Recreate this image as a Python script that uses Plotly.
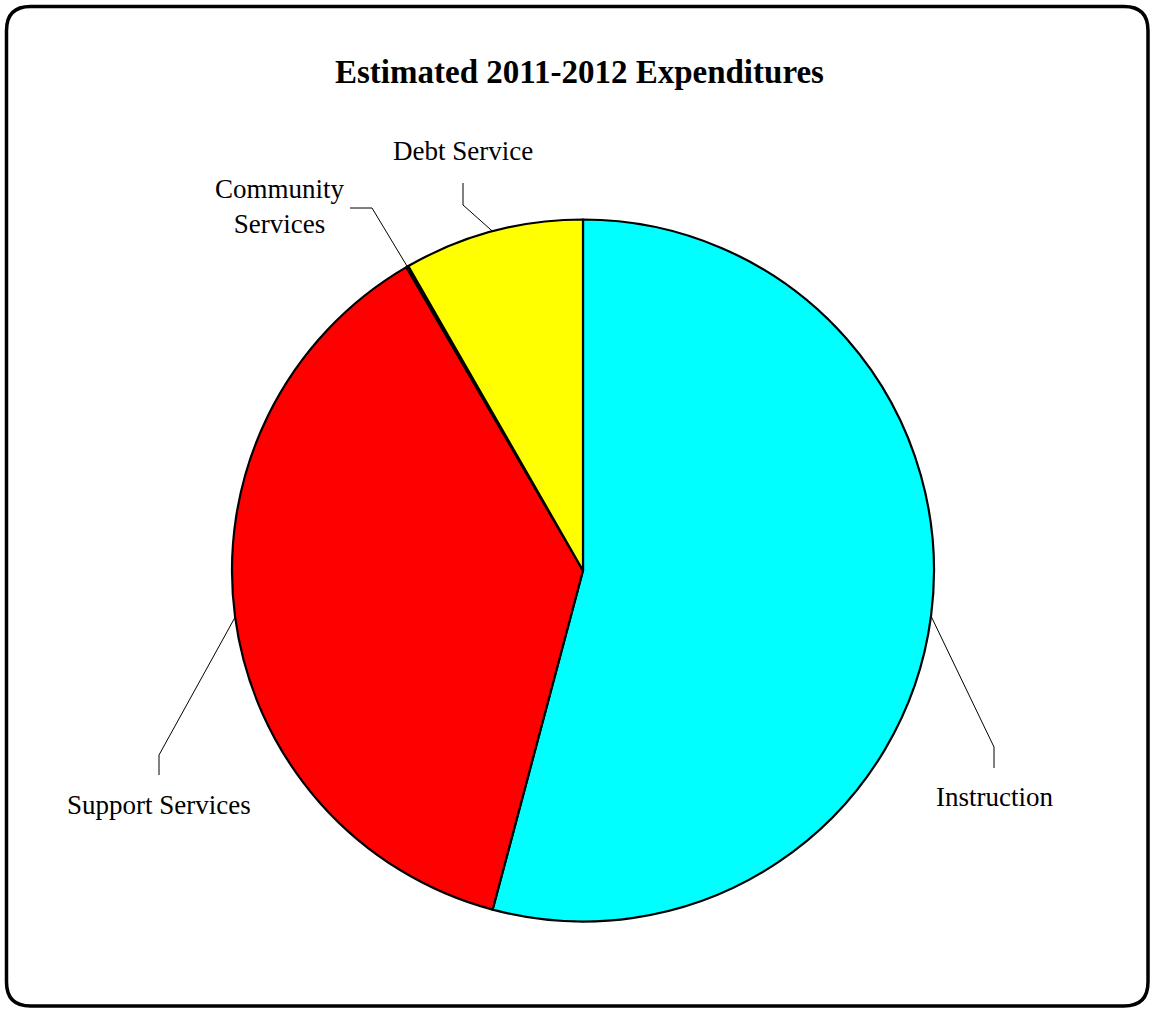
import math
import plotly.graph_objects as go

# Expenditure categories and their shares of the budget (percent)
categories = ["Instruction", "Support Services", "Community Services", "Debt Service"]
shares = [54.2, 37.5, 0.1, 8.3]
label_text = ["Instruction", "Support Services", "Community<br>Services", "Debt Service"]
slice_colors = ["#00FFFF", "#FF0000", "#FF00FF", "#FFFF00"]

title_text = "<b>Estimated 2011-2012 Expenditures</b>"

# ---- page / pie geometry (pixels) ----
W, H = 1151, 1009
CX, CY, R = 583.0, 570.5, 351.0
FONT = "Liberation Serif"

# label placement: (label centre x, label centre y, elbow x, elbow y, end x, end y)
label_layout = {
    "Instruction": (994, 797, 994, 747, 994, 768),
    "Support Services": (159, 805, 159, 755, 159, 775),
    "Community Services": (280, 207, 372, 208, 350, 208),
    "Debt Service": (463, 151, 463, 205, 463, 183),
}


def px(x):
    return x / W


def py(y):
    return 1 - y / H


fig = go.Figure(
    go.Pie(
        labels=categories,
        values=shares,
        sort=False,
        direction="clockwise",
        rotation=0,
        marker=dict(colors=slice_colors, line=dict(color="black", width=2.2)),
        textinfo="none",
        hoverinfo="label+percent",
        showlegend=False,
        domain=dict(x=[px(CX - R), px(CX + R)], y=[py(CY + R), py(CY - R)]),
    )
)

shapes = []
annotations = []

# leader lines start at the mid angle of each slice
total = sum(shares)
cum = 0.0
for name, val, txt in zip(categories, shares, label_text):
    mid = (cum + val / 2) / total * 2 * math.pi
    cum += val
    sx = CX + R * math.sin(mid)
    sy = CY - R * math.cos(mid)
    lx, ly, ex, ey, fx, fy = label_layout[name]
    shapes.append(
        dict(
            type="path",
            xref="paper",
            yref="paper",
            path=f"M {px(sx)} {py(sy)} L {px(ex)} {py(ey)} L {px(fx)} {py(fy)}",
            line=dict(color="black", width=1),
        )
    )
    annotations.append(
        dict(
            text=txt,
            x=px(lx),
            y=py(ly),
            xref="paper",
            yref="paper",
            xanchor="center",
            yanchor="middle",
            showarrow=False,
            align="center",
            font=dict(family=FONT, size=27, color="black"),
        )
    )

# chart title
annotations.append(
    dict(
        text=title_text,
        x=px(579),
        y=py(72),
        xref="paper",
        yref="paper",
        xanchor="center",
        yanchor="middle",
        showarrow=False,
        font=dict(family=FONT, size=33, color="black"),
    )
)

# rounded outer frame
x0, y0, x1, y1, r = 6.5, 6.5, 1148.0, 1006.0, 24
frame = (
    f"M {px(x0 + r)} {py(y0)} L {px(x1 - r)} {py(y0)} "
    f"Q {px(x1)} {py(y0)} {px(x1)} {py(y0 + r)} "
    f"L {px(x1)} {py(y1 - r)} Q {px(x1)} {py(y1)} {px(x1 - r)} {py(y1)} "
    f"L {px(x0 + r)} {py(y1)} Q {px(x0)} {py(y1)} {px(x0)} {py(y1 - r)} "
    f"L {px(x0)} {py(y0 + r)} Q {px(x0)} {py(y0)} {px(x0 + r)} {py(y0)} Z"
)
shapes.append(
    dict(type="path", xref="paper", yref="paper", path=frame,
         line=dict(color="black", width=3.5))
)

fig.update_layout(
    width=W,
    height=H,
    margin=dict(l=0, r=0, t=0, b=0),
    paper_bgcolor="white",
    plot_bgcolor="white",
    shapes=shapes,
    annotations=annotations,
    font=dict(family=FONT),
)

fig.write_html("out.html")
